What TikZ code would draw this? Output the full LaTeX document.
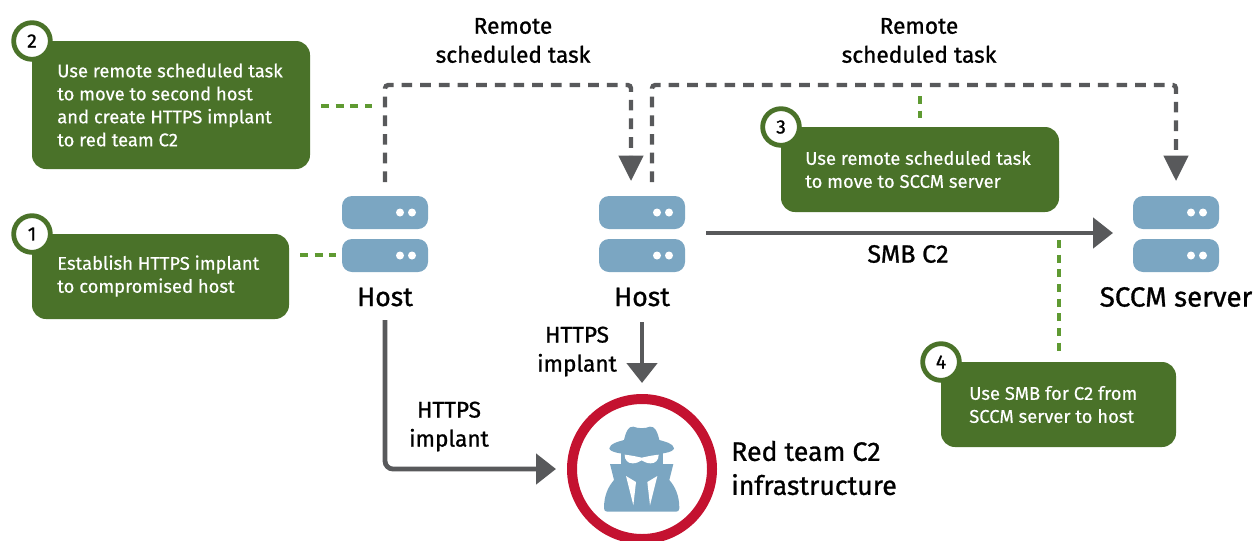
\documentclass[tikz,border=0pt]{standalone}
\usepackage{fontspec}
\setmainfont{Fira Sans}
\newfontfamily\medfont[FakeBold=1]{Fira Sans}
\newfontfamily\callfont[FakeBold=0.35]{Fira Sans}
\usetikzlibrary{arrows.meta}
\definecolor{boxgreen}{HTML}{4A7229}
\definecolor{dotgreen}{HTML}{5F9A32}
\definecolor{linegray}{HTML}{58595B}
\definecolor{srvblue}{HTML}{7BA6C2}
\definecolor{redring}{HTML}{C41230}
\tikzset{
  callout/.style={fill=boxgreen,rounded corners=10.5pt,inner sep=0pt,draw=none},
  calltext/.style={anchor=west,align=left,text=white,inner sep=0pt,font=\callfont\fontsize{13.8}{17.25}\selectfont},
  badge/.style={circle,draw=boxgreen,fill=white,line width=3.6pt,minimum size=27.5pt,inner sep=0pt,font=\medfont\fontsize{14.5}{15}\selectfont},
  srv/.style={fill=srvblue,rounded corners=7.5pt,minimum width=64.5pt,minimum height=24.75pt,inner sep=0pt},
  srvdot/.style={fill=white,draw=none},
  lbl/.style={align=center,inner sep=0pt,font=\medfont\fontsize{17}{21.75}\selectfont},
  biglbl/.style={align=center,inner sep=0pt,font=\medfont\fontsize{20}{25.5}\selectfont},
  dashconn/.style={draw=linegray,line width=3.3pt,dash pattern=on 8pt off 6pt,rounded corners=2.5pt,-{Triangle[width=18pt,length=19pt]}},
  dotconn/.style={draw=dotgreen,line width=3.5pt,dash pattern=on 6pt off 5pt},
  solidconn/.style={draw=linegray,line width=3.6pt,rounded corners=6pt,-{Triangle[width=22.5pt,length=15pt]}},
}
\begin{document}
\begin{tikzpicture}[x=0.75pt,y=-0.75pt]
\useasboundingbox (0,0) rectangle (1256,540);
% callouts
\node[callout,minimum width=208.5pt,minimum height=96pt] (box2) at (171,105) {};
\node[callout,minimum width=192.75pt,minimum height=63.75pt] (box1) at (160.5,276.5) {};
\node[callout,minimum width=208.5pt,minimum height=63.75pt] (box3) at (920,169.5) {};
\node[callout,minimum width=176.25pt,minimum height=63.75pt] (box4) at (1058.5,404.5) {};
\node[calltext] (t2) at (57,105) {Use remote scheduled task\\to move to second host\\and create HTTPS implant\\to red team C2};
\node[calltext] (t1) at (57,276) {Establish HTTPS implant\\to compromised host};
\node[calltext] (t3) at (805,169.5) {Use remote scheduled task\\to move to SCCM server};
\node[calltext] (t4) at (969,404.5) {Use SMB for C2 from\\SCCM server to host};
\node[badge] (b2) at (32,41) {2};
\node[badge] (b1) at (32,234) {1};
\node[badge] (b3) at (781,127) {3};
\node[badge] (b4) at (941,362) {4};
% servers
\foreach \n/\cx in {h1/385,h2/642,h3/1176}{
  \node[srv] (\n a) at (\cx,212.5) {};
  \node[srv] (\n b) at (\cx,255.5) {};
  \foreach \yy in {212.5,255.5}{
    \fill[srvdot] (\cx+15,\yy) circle (3pt);
    \fill[srvdot] (\cx+27,\yy) circle (3pt);
  }
}
\node[biglbl] (l1) at (385,297) {Host};
\node[biglbl] (l2) at (642,297) {Host};
\node[biglbl,font=\medfont\fontsize{20.8}{25.5}\selectfont] (l3) at (1176,297) {SCCM server};
\node[lbl] (r1) at (513,40.5) {Remote\\scheduled task};
\node[lbl] (r2) at (919,40.5) {Remote\\scheduled task};
\node[lbl] (i1) at (577,351.5) {HTTPS\\implant};
\node[lbl] (i2) at (449,426.5) {HTTPS\\implant};
\node[lbl,font=\medfont\fontsize{18.8}{21.75}\selectfont] (smb) at (908,254) {SMB C2};
\node[biglbl,align=left,anchor=west] (red) at (731,468) {Red team C2\\infrastructure};
% red ring
\node[circle,draw=redring,line width=7.5pt,minimum size=105pt,inner sep=0pt,fill=white] (c2) at (642,469) {};
% spy icon
\begin{scope}[shift={(530,380)},x=0.25pt,y=-0.25pt]
  \fill[srvblue] (238,205) .. controls (240,190) and (265,185) .. (282,180)
     .. controls (288,155) and (295,138) .. (310,140) .. controls (325,146) and (345,146) .. (360,140)
     .. controls (375,138) and (382,155) .. (388,180) .. controls (405,185) and (430,190) .. (432,205)
     .. controls (430,218) and (390,224) .. (335,224) .. controls (280,224) and (240,218) .. (238,205) -- cycle;
  \fill[srvblue] (272,220) rectangle (398,262);
  \fill[white] (284,224) .. controls (310,227) and (320,230) .. (335,233) .. controls (350,230) and (360,227) .. (386,224)
     .. controls (386,240) and (377,250) .. (362,250) .. controls (350,250) and (342,245) .. (335,241)
     .. controls (328,245) and (320,250) .. (308,250) .. controls (293,250) and (284,240) .. (284,224) -- cycle;
  \fill[srvblue] (240,252) -- (430,252) -- (418,300) .. controls (435,320) and (448,345) .. (448,385)
     .. controls (448,392) and (444,395) .. (438,395) -- (232,395) .. controls (226,395) and (222,392) .. (222,385)
     .. controls (222,345) and (235,320) .. (252,300) -- cycle;
  \fill[white] (288,288) -- (318,306) -- (310,376) -- cycle;
  \fill[white] (382,288) -- (352,306) -- (360,376) -- cycle;
\end{scope}
% connector anchors
\coordinate (d1s) at (385,182);
\coordinate (d1c1) at (385,85);
\coordinate (d1c2) at (631,85);
\coordinate (d1e) at (631,181);
\coordinate (d2s) at (652,182);
\coordinate (d2c1) at (652,85);
\coordinate (d2c2) at (1176,85);
\coordinate (d2e) at (1176,181);
% dashed connectors
\draw[dashconn] (d1s) -- (d1c1) -- (d1c2) -- (d1e);
\draw[dashconn] (d2s) -- (d2c1) -- (d2c2) -- (d2e);
% solid connectors
\coordinate (s1s) at (385,320);
\coordinate (s1c) at (385,469);
\coordinate (s1e) at (556,469);
\draw[solidconn] (s1s) -- (s1c) -- (s1e);
\coordinate (s2s) at (706,233);
\coordinate (s2e) at (1113,233);
\draw[solidconn] (s2s) -- (s2e);
\coordinate (s3s) at (642,322);
\coordinate (s3e) at (642,383);
\draw[solidconn] (s3s) -- (s3e);
% dotted leaders
\coordinate (g1a) at (300,255); \coordinate (g1b) at (336,255);
\coordinate (g2a) at (321,106); \coordinate (g2b) at (372,106);
\coordinate (g3a) at (920,96); \coordinate (g3b) at (920,118);
\coordinate (g4a) at (1059,240); \coordinate (g4b) at (1059,352);
\draw[dotconn] (g1a) -- (g1b);
\draw[dotconn] (g2a) -- (g2b);
\draw[dotconn] (g3a) -- (g3b);
\draw[dotconn] (g4a) -- (g4b);
\end{tikzpicture}
\end{document}
